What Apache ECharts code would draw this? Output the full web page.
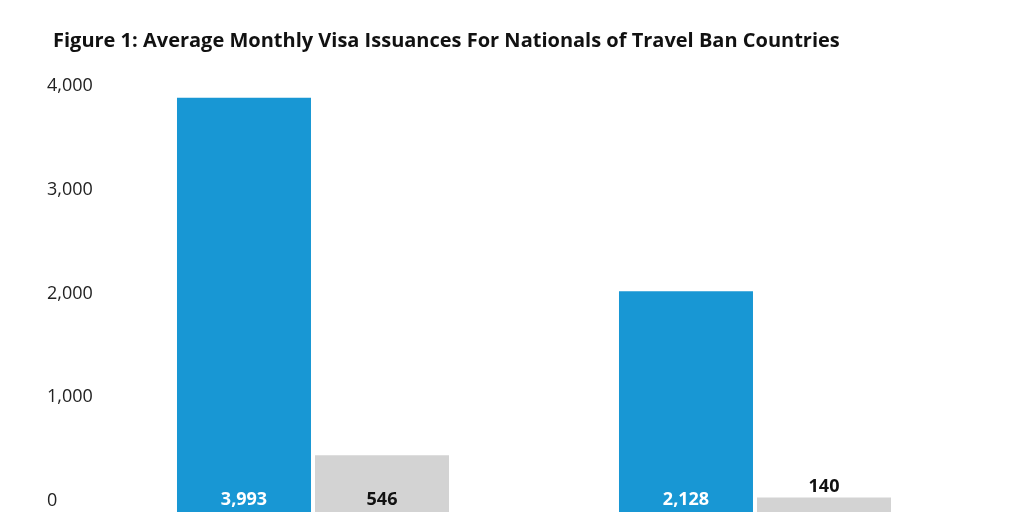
<!DOCTYPE html>
<html lang="en">
<head>
  <meta charset="UTF-8" />
  <title>Visa Issuances</title>
  <script src="https://cdnjs.cloudflare.com/ajax/libs/echarts/6.0.0/echarts.min.js"></script>
  <style>
    body { margin: 0; background: #fff; }
    #main { width: 1024px; height: 512px; }
  </style>
</head>
<body>
  <div id="main"></div>
  <script>
    const categories = ["Before Travel Ban", "After Travel Ban"];
    const immigrantVisas = [3993, 2128];
    const otherVisas = [546, 140];
    const yTicks = [0, 1000, 2000, 3000, 4000];

    const chart = echarts.init(document.getElementById("main"));
    const font = "'Open Sans', sans-serif";
    const fmt = (v) => v.toLocaleString("en-US");

    chart.setOption({
      animation: false,
      textStyle: { fontFamily: font },
      title: {
        text: "Figure 1: Average Monthly Visa Issuances For Nationals of Travel Ban Countries",
        left: 48,
        top: 26,
        textStyle: { fontFamily: font, fontSize: 20, fontWeight: "bold", color: "#111" },
      },
      grid: { left: 92, right: 48, top: 97, bottom: -5 },
      xAxis: {
        type: "category",
        data: categories,
        axisLine: { show: false },
        axisTick: { show: false },
        axisLabel: { show: false },
      },
      yAxis: {
        type: "value",
        min: yTicks[0],
        max: yTicks[yTicks.length - 1],
        interval: 1000,
        splitLine: { show: false },
        axisLabel: {
          fontSize: 18,
          color: "#222",
          align: "left",
          margin: 45,
          verticalAlign: "bottom",
          padding: [0, 0, 2, 0],
        },
      },
      series: [
        {
          type: "bar",
          barWidth: 134,
          barGap: "3%",
          itemStyle: { color: "#1897d4" },
          label: {
            show: true,
            position: "insideBottom",
            distance: 3,
            color: "#fff",
            fontSize: 18,
            fontWeight: "bold",
            formatter: (p) => fmt(p.value),
          },
          data: immigrantVisas,
        },
        {
          type: "bar",
          barWidth: 134,
          itemStyle: { color: "#d3d3d3" },
          label: {
            show: true,
            position: "insideBottom",
            distance: 3,
            color: "#111",
            fontSize: 18,
            fontWeight: "bold",
            formatter: (p) => fmt(p.value),
          },
          data: otherVisas.map((v) =>
            v < 300 ? { value: v, label: { position: "top", distance: 2 } } : v
          ),
        },
      ],
    });
  </script>
</body>
</html>
